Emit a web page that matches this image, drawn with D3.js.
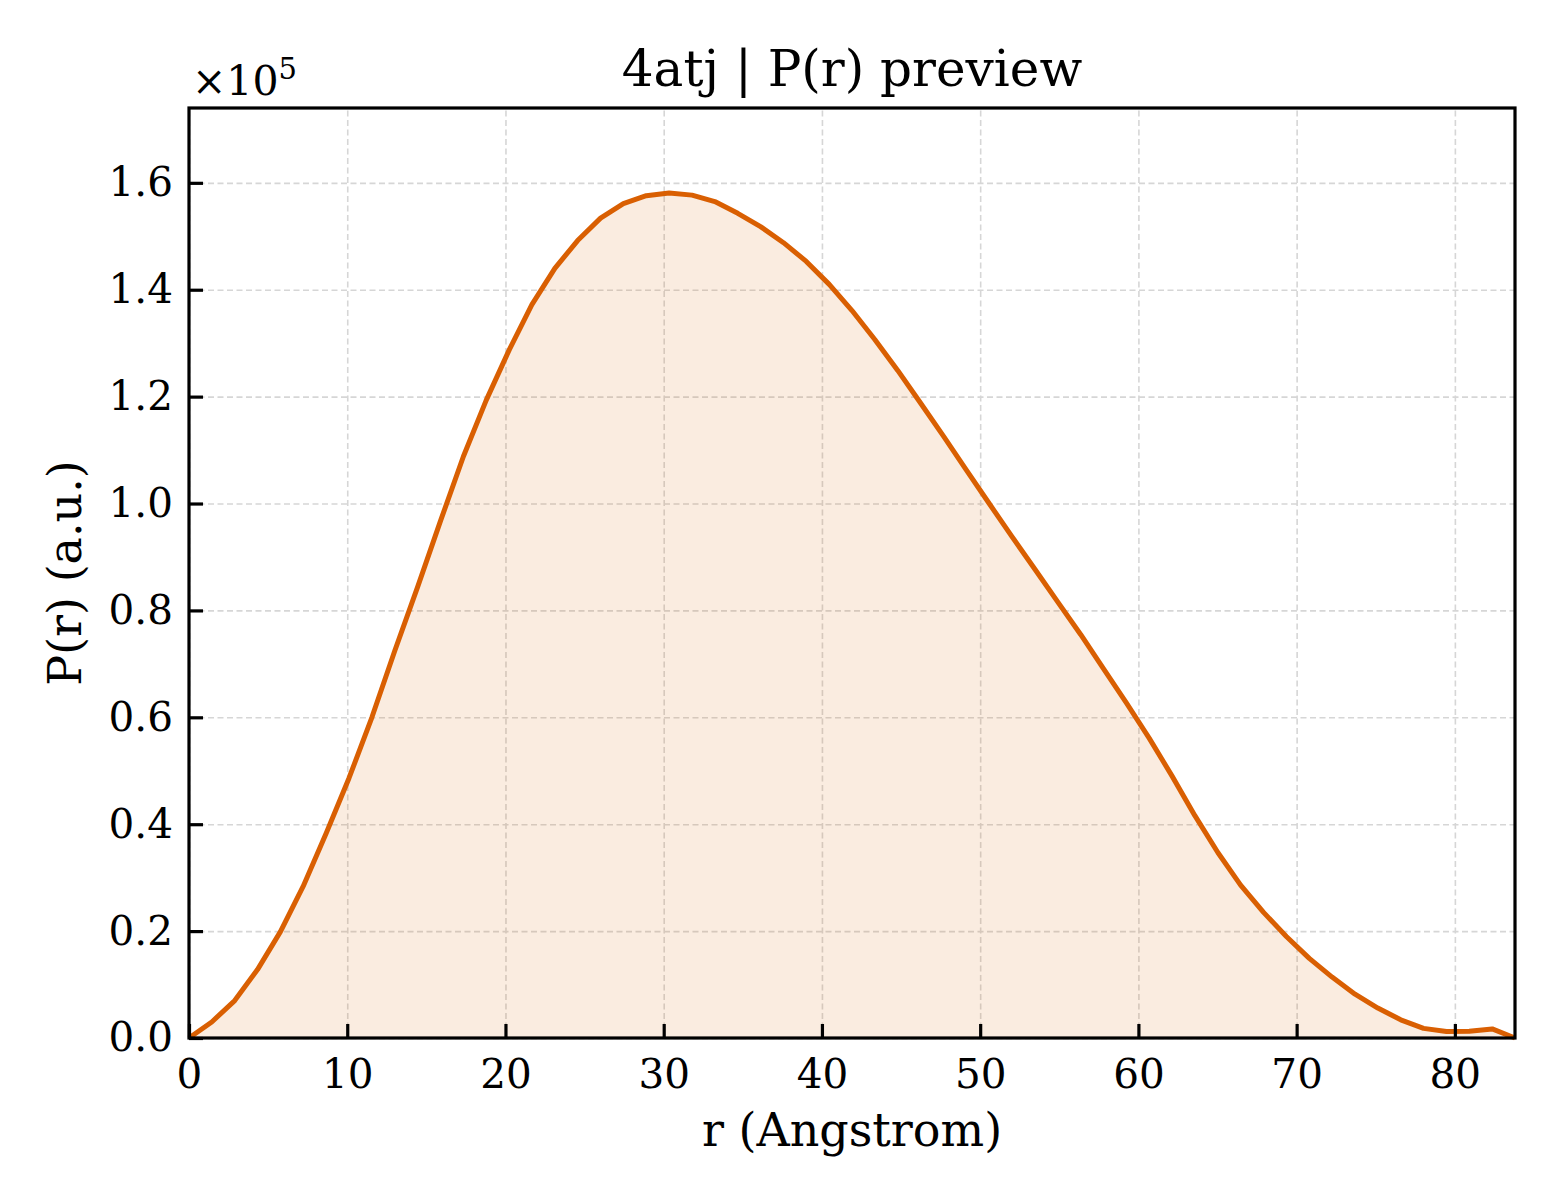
<!DOCTYPE html>
<html>
<head>
<meta charset="utf-8">
<script src="https://cdn.jsdelivr.net/npm/d3@7"></script>
<style>
  body { margin: 0; background: #fff; }
  svg { display: block; font-family: "DejaVu Serif", serif; }
</style>
</head>
<body>
<svg id="chart" width="1560" height="1200"></svg>
<script>
// r in Angstrom, P(r) in a.u.
const rValues = [0.00, 1.44, 2.89, 4.33, 5.78, 7.22, 8.67, 10.11, 11.56, 13.00,
  14.45, 15.89, 17.34, 18.78, 20.23, 21.67, 23.12, 24.56, 26.01, 27.45,
  28.90, 30.34, 31.79, 33.23, 34.68, 36.12, 37.57, 39.01, 40.46, 41.90,
  43.34, 44.79, 46.23, 47.68, 49.12, 50.57, 52.01, 53.46, 54.90, 56.35,
  57.79, 59.24, 60.68, 62.13, 63.57, 65.02, 66.46, 67.91, 69.35, 70.80,
  72.24, 73.69, 75.13, 76.58, 78.02, 79.47, 80.91, 82.36, 83.80];
const prValues = [0, 3000, 7000, 12800, 19900, 28400, 38300, 48600, 60000, 72400,
  84400, 96700, 108800, 119300, 128700, 137200, 144000, 149200, 153400, 156100,
  157600, 158100, 157700, 156500, 154300, 151800, 148800, 145300, 141000, 136100,
  130700, 124900, 118800, 112600, 106300, 100000, 93800, 87700, 81600, 75500,
  69100, 62700, 56100, 49000, 41600, 34700, 28600, 23500, 19000, 14900,
  11400, 8200, 5600, 3400, 1800, 1200, 1250, 1700, 0];
const xTicks = [0, 10, 20, 30, 40, 50, 60, 70, 80];
const yTicks = [0, 20000, 40000, 60000, 80000, 100000, 120000, 140000, 160000];

const data = rValues.map((r, i) => ({r: r, p: prValues[i]}));

const margin = {top: 108, right: 45, bottom: 162, left: 189};
const width = 1560 - margin.left - margin.right;
const height = 1200 - margin.top - margin.bottom;

const lineColor = '#d95f02';

const svg = d3.select('#chart');
const chart = svg.append('g')
  .attr('transform', `translate(${margin.left}, ${margin.top})`);

const xScale = d3.scaleLinear().domain([0, 83.8]).range([0, width]);
const yScale = d3.scaleLinear().domain([0, 174000]).range([height, 0]);

// grid
chart.append('g')
  .attr('class', 'grid')
  .attr('transform', `translate(0, ${height})`)
  .call(d3.axisBottom(xScale).tickValues(xTicks).tickSize(-height).tickFormat(''));
chart.append('g')
  .attr('class', 'grid')
  .call(d3.axisLeft(yScale).tickValues(yTicks).tickSize(-width).tickFormat(''));
chart.selectAll('.grid .domain').remove();
chart.selectAll('.grid line')
  .attr('stroke', '#d6d6d6')
  .attr('stroke-width', 1.6)
  .attr('stroke-dasharray', '6,3.5');

// fill + curve
chart.append('path')
  .datum(data)
  .attr('fill', lineColor)
  .attr('fill-opacity', 0.12)
  .attr('d', d3.area().x(d => xScale(d.r)).y0(yScale(0)).y1(d => yScale(d.p)));

chart.append('path')
  .datum(data)
  .attr('fill', 'none')
  .attr('stroke', lineColor)
  .attr('stroke-width', 5)
  .attr('stroke-linejoin', 'round')
  .attr('d', d3.line().x(d => xScale(d.r)).y(d => yScale(d.p)));

// frame
chart.append('rect')
  .attr('width', width)
  .attr('height', height)
  .attr('fill', 'none')
  .attr('stroke', '#000')
  .attr('stroke-width', 3.2);

// axes, ticks pointing inward
const xAxis = chart.append('g')
  .attr('transform', `translate(0, ${height})`)
  .call(d3.axisBottom(xScale).tickValues(xTicks).tickSize(-14).tickPadding(14)
    .tickFormat(d3.format('d')));
const yAxis = chart.append('g')
  .call(d3.axisLeft(yScale).tickValues(yTicks).tickSize(-14).tickPadding(16)
    .tickFormat(d => (d / 1e5).toFixed(1)));

[xAxis, yAxis].forEach(ax => {
  ax.select('.domain').remove();
  ax.selectAll('line').attr('stroke', '#000').attr('stroke-width', 3.2);
  ax.selectAll('text')
    .attr('fill', '#000')
    .style('font-family', '"DejaVu Serif", serif')
    .style('font-size', '40.5px');
});
xAxis.selectAll('text').attr('dy', '0.88em');

// labels
svg.append('text')
  .attr('x', margin.left + width / 2)
  .attr('y', 86)
  .attr('text-anchor', 'middle')
  .style('font-size', '50px')
  .text('4atj | P(r) preview');

svg.append('text')
  .attr('x', margin.left + width / 2)
  .attr('y', 1146)
  .attr('text-anchor', 'middle')
  .style('font-size', '46px')
  .text('r (Angstrom)');

svg.append('text')
  .attr('transform', `translate(81, ${margin.top + height / 2}) rotate(-90)`)
  .attr('text-anchor', 'middle')
  .style('font-size', '46px')
  .text('P(r) (a.u.)');

const offset = svg.append('text')
  .attr('x', 192)
  .attr('y', 95)
  .style('font-size', '41px');
offset.append('tspan').text('\u00d710');
offset.append('tspan')
  .attr('dy', -16)
  .style('font-size', '29px')
  .text('5');
</script>
</body>
</html>
